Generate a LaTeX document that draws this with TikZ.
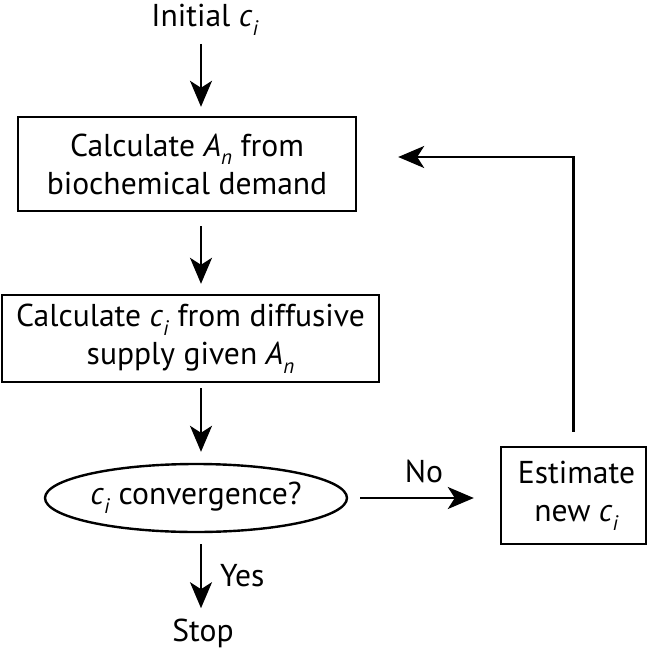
\documentclass[tikz,border=0pt]{standalone}
\usepackage{fontspec}
\setmainfont{PT Sans}
\usetikzlibrary{shapes.geometric,arrows.meta}
\newcommand{\lowsub}[1]{\raisebox{-0.55ex}{\fontsize{10.5}{10.5}\selectfont\textit{#1}}}
\newcommand{\ci}{\textit{c}\lowsub{i}}
\newcommand{\An}{\textit{A}\lowsub{n}}
\begin{document}
\begin{tikzpicture}[x=0.5pt,y=-0.5pt,
  every node/.style={font=\fontsize{15.8}{19}\selectfont,align=center,inner sep=0pt},
  box/.style={draw,line width=1.2pt},
  flow/.style={-{Stealth[length=13pt,width=11pt,inset=3.5pt]},line width=1.2pt}]
  \useasboundingbox (0,0) rectangle (648,649);
  \coordinate (spine) at (201,0);
  \node (init) at (205,20) {Initial \ci};
  \node[box,minimum width=169pt,minimum height=47pt] (demand) at (187,164) {Calculate \An\ from\\biochemical demand};
  \node[box,minimum width=188.5pt,minimum height=43.5pt] (supply) at (190.5,338.5) {Calculate \ci\ from diffusive\\supply given \An};
  \node[box,ellipse,minimum width=151pt,minimum height=34pt] (conv) at (196,498) {\ci\ convergence?};
  \node[box,minimum width=72.5pt,minimum height=48.5pt] (est) at (573.5,495.5) {\hspace{3pt}Estimate\\\hspace{3pt}new \ci};
  \node (stop) at (203,633) {Stop};
  % main chain
  \draw[flow,shorten <=4pt,shorten >=4.5pt] (init.south -| spine) -- (demand.north -| spine);
  \draw[flow,shorten <=7pt,shorten >=5pt] (demand.south -| spine) -- (supply.north -| spine);
  \draw[flow,shorten <=2.5pt,shorten >=5.5pt] (supply.south -| spine) -- (conv.north -| spine);
  \draw[flow,shorten <=5.5pt,shorten >=5pt] (conv.south -| spine) -- node[right=9pt] {Yes} (stop.north -| spine);
  % loop back
  \draw[flow,shorten <=6pt,shorten >=13pt] (conv.east) -- node[above=7pt] {No} (conv.east -| est.west);
  \draw[flow,shorten <=7pt,shorten >=20.5pt] (est.north) |- ([yshift=3.5pt]demand.east);
\end{tikzpicture}
\end{document}
